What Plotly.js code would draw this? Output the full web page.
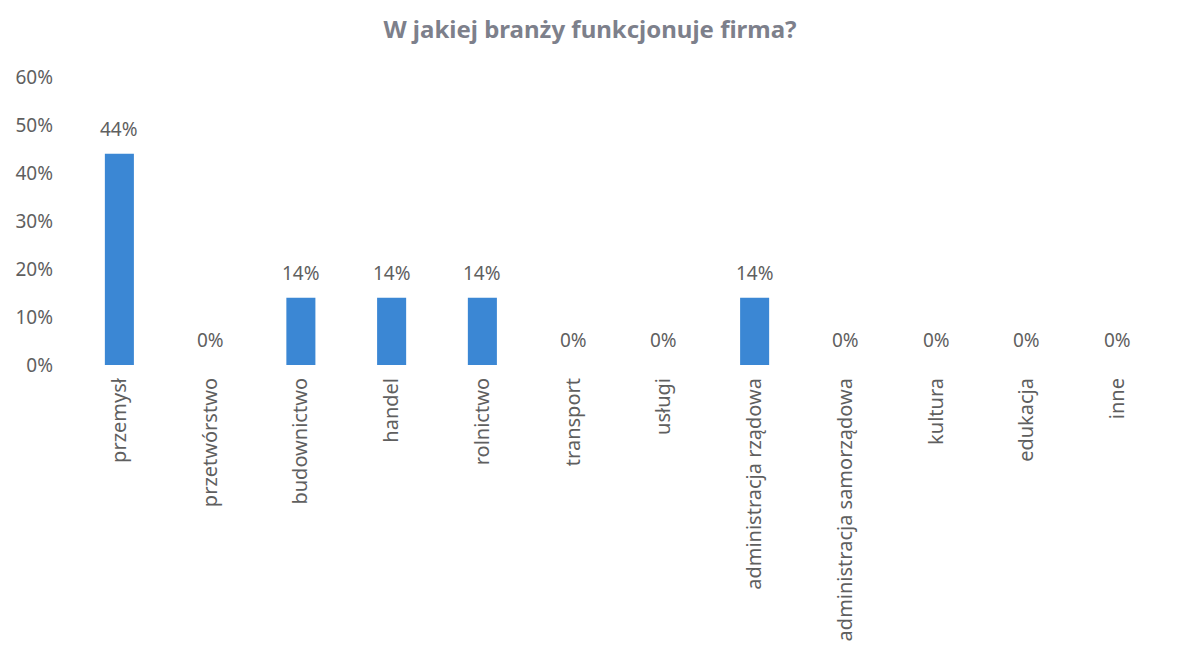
<!DOCTYPE html>
<html>
<head>
<meta charset="utf-8">
<script src="https://cdn.plot.ly/plotly-3.0.1.min.js"></script>
<style>html,body{margin:0;padding:0;background:#fff;}#chart{width:1180px;height:668px;}</style>
</head>
<body>
<div id="chart"></div>
<script>
const categories = ["przemysł","przetwórstwo","budownictwo","handel","rolnictwo","transport","usługi","administracja rządowa","administracja samorządowa","kultura","edukacja","inne"];
const values = [0.44,0,0.14,0.14,0.14,0,0,0.14,0,0,0,0];
const valueLabels = ["44%","0%","14%","14%","14%","0%","0%","14%","0%","0%","0%","0%"];
const yTicks = [0,0.1,0.2,0.3,0.4,0.5,0.6];
const yTickLabels = ["0%","10%","20%","30%","40%","50%","60%"];

const fontFam = "Noto Sans, Open Sans, sans-serif";
const annotations = categories.map((c,i)=>({
  x: c, y: values[i], xref:'x', yref:'y', text: valueLabels[i],
  showarrow:false, yanchor:'middle', yshift:25,
  font:{family:fontFam, size:19, color:'#5f5f5f'}
}));

Plotly.newPlot('chart', [{
  type:'bar', x:categories, y:values,
  marker:{color:'#3b87d4'}, hoverinfo:'none'
}], {
  width:1180, height:668,
  margin:{l:74, r:17, t:77, b:303},
  paper_bgcolor:'#fff', plot_bgcolor:'#fff',
  bargap:0.68,
  showlegend:false,
  title:{text:'<b>W jakiej branży funkcjonuje firma?</b>', x:0.5, xanchor:'center', y:0.955, yanchor:'middle',
    font:{family:fontFam, size:24, color:'#7d808b'}},
  xaxis:{type:'category', tickangle:-90, showline:false, showgrid:false, zeroline:false, ticks:'',
    ticklabelstandoff:8,
    tickfont:{family:fontFam, size:20, color:'#5f5f5f'}, automargin:false},
  yaxis:{range:[0,0.6], tickvals:yTicks, ticktext:yTickLabels, showgrid:false, zeroline:false, showline:false,
    ticks:'', ticklabelstandoff:20, tickfont:{family:fontFam, size:19, color:'#5f5f5f'}, automargin:false},
  annotations: annotations
}, {staticPlot:true});
</script>
</body>
</html>
